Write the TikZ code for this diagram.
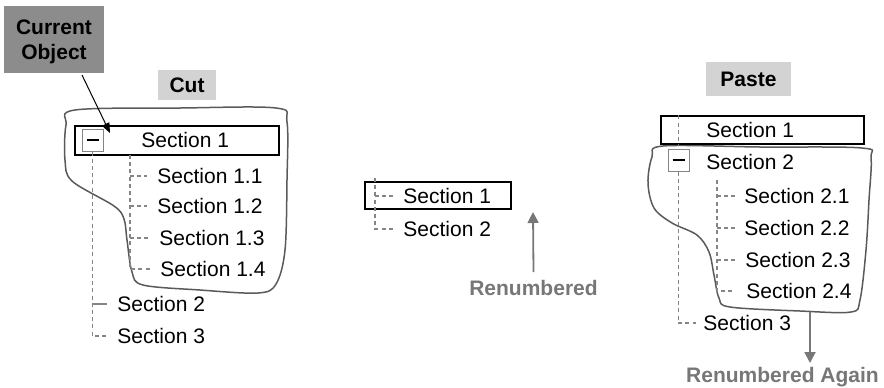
\documentclass[tikz,border=0pt]{standalone}
\usepackage{fontspec}
\setmainfont{Liberation Sans}
\usetikzlibrary{arrows.meta}
\definecolor{treegray}{HTML}{858585}
\definecolor{lassogray}{HTML}{5A5A5A}
\definecolor{arrowgray}{HTML}{777777}
\definecolor{darkbox}{HTML}{8C8C8C}
\definecolor{lightbox}{HTML}{D3D3D3}
\tikzset{
 lbl/.style={inner sep=0pt, anchor=west, text height=7.5pt, text depth=0pt, font=\fontsize{10.5}{12.5}\selectfont},
 tag/.style={inner sep=0pt, text height=7.5pt, text depth=0pt, font=\bfseries\fontsize{10.5}{12.5}\selectfont},
 selbox/.style={draw=black, line width=0.65pt, inner sep=0pt},
 minusbox/.style={draw=treegray, line width=0.5pt, minimum width=10.5pt, minimum height=11pt, inner sep=0pt},
 minusbar/.style={draw=black, line width=0.6pt},
 tree/.style={draw=treegray, line width=0.7pt, dash pattern=on 2pt off 1.6pt},
 treesolid/.style={draw=treegray, line width=0.7pt},
 lasso/.style={draw=lassogray, line width=0.75pt},
 grayarrow/.style={draw=arrowgray, line width=0.9pt, -{Triangle[width=5.5pt,length=5.5pt]}},
 blackarrow/.style={draw=black, line width=0.5pt, -{Triangle[width=4pt,length=5pt]}},
}
\begin{document}
\begin{tikzpicture}[x=0.5pt,y=-0.5pt]
\useasboundingbox (0,0) rectangle (884,387);

% ---------- labels on top ----------
\node[fill=darkbox, minimum width=50pt, minimum height=33.5pt, inner sep=0pt] (cur) at (54,39.5) {};
\node[inner sep=0pt, align=center, font=\bfseries\fontsize{10.5}{12.7}\selectfont]
      (curtxt) at ([yshift=-1.2pt]cur.center) {Current\\Object};
\node[tag, fill=lightbox, minimum width=29pt, minimum height=15pt] (cut) at (187,85) {Cut};
\node[tag, fill=lightbox, minimum width=42.5pt, minimum height=17pt] (paste) at (748.5,79) {Paste};

% ---------- left tree ----------
\draw[lasso] plot[smooth cycle, tension=0.55] coordinates {
 (75,110) (180,108) (276,108) (287,122) (287,180) (285,250) (276,284) (258,293)
 (200,290) (143,285) (132,272) (127,240) (124,219) (114,206) (72,181) (65,160) (66,125)};
\node[selbox, minimum width=102pt, minimum height=14.5pt] (lb) at (177,140.5) {};
\node[minusbox] (mb1) at (92.5,140) {};
\draw[minusbar] ([xshift=2.5pt]mb1.west) -- ([xshift=-2.5pt]mb1.east);
\node[lbl] (s1) at (141,140) {Section 1};
\node[lbl] (s11) at (157,176) {Section 1.1};
\node[lbl] (s12) at (157,206) {Section 1.2};
\node[lbl] (s13) at (159,238) {Section 1.3};
\node[lbl] (s14) at (160,269) {Section 1.4};
\node[lbl] (s2) at (117,304) {Section 2};
\node[lbl] (s3) at (117,336) {Section 3};
\draw[tree] (mb1.south) -- (mb1.south |- s3.west) -- ([xshift=-5pt]s3.west);
\draw[treesolid] (mb1.south |- s2.west) -- ([xshift=-5pt]s2.west);
\coordinate (L2top) at (130,155);
\draw[tree] (L2top) -- (L2top |- s14.west) -- ([xshift=-5pt]s14.west);
\draw[tree] (L2top |- s11.west) -- ([xshift=-5pt]s11.west);
\draw[tree] (L2top |- s12.west) -- ([xshift=-5pt]s12.west);
\draw[tree] (L2top |- s13.west) -- ([xshift=-5pt]s13.west);
\coordinate (curstart) at (82,75);
\coordinate (curtip) at (110,133);
\draw[blackarrow] (curstart) -- (curtip);

% ---------- middle tree ----------
\node[selbox, minimum width=73pt, minimum height=13.5pt] (mbx) at (438,195.5) {};
\node[lbl] (m1) at (403,196) {Section 1};
\node[lbl] (m2) at (403,229) {Section 2};
\coordinate (Mtop) at (375,178);
\draw[tree] (Mtop) -- (Mtop |- m2.west) -- ([xshift=-5pt]m2.west);
\draw[tree] (Mtop |- m1.west) -- ([xshift=-5pt]m1.west);
\node[tag, text=arrowgray] (ren) at (533.5,288) {Renumbered};
\coordinate (rentip) at (533,212);
\draw[grayarrow] ([yshift=4pt]ren.north) -- (rentip);

% ---------- right tree ----------
\draw[lasso] plot[smooth cycle, tension=0.55] coordinates {
 (663,146) (760,147) (862,148) (871,158) (869,200) (866,250) (860,300) (851,312)
 (800,311) (730,307) (719,298) (714,275) (709,252) (697,235) (672,223) (654,208) (648,183) (652,157)};
\node[selbox, minimum width=101.5pt, minimum height=14pt] (rb) at (762.5,130) {};
\node[minusbox] (mb2) at (678.5,160) {};
\draw[minusbar] ([xshift=2.5pt]mb2.west) -- ([xshift=-2.5pt]mb2.east);
\node[lbl] (r1) at (706,130) {Section 1};
\node[lbl] (r2) at (706,162) {Section 2};
\node[lbl] (r21) at (744,196) {Section 2.1};
\node[lbl] (r22) at (744,228) {Section 2.2};
\node[lbl] (r23) at (745,260) {Section 2.3};
\node[lbl] (r24) at (746,291) {Section 2.4};
\node[lbl] (r3) at (703,323) {Section 3};
\draw[tree] (rb.north -| mb2.center) -- (rb.south -| mb2.center);
\draw[tree] (mb2.south) -- (mb2.south |- r3.west) -- ([xshift=-3.5pt]r3.west);
\coordinate (R2top) at (717,180);
\draw[tree] (R2top) -- (R2top |- r24.west) -- ([xshift=-5.5pt]r24.west);
\draw[tree] (R2top |- r21.west) -- ([xshift=-4.5pt]r21.west);
\draw[tree] (R2top |- r22.west) -- ([xshift=-4.5pt]r22.west);
\draw[tree] (R2top |- r23.west) -- ([xshift=-5pt]r23.west);
\node[tag, text=arrowgray] (rag) at (782.5,375) {Renumbered Again};
\coordinate (lassobot) at (810,312);
\coordinate (ragtip) at (810,363);
\draw[grayarrow] (lassobot) -- (ragtip);
\end{tikzpicture}
\end{document}
